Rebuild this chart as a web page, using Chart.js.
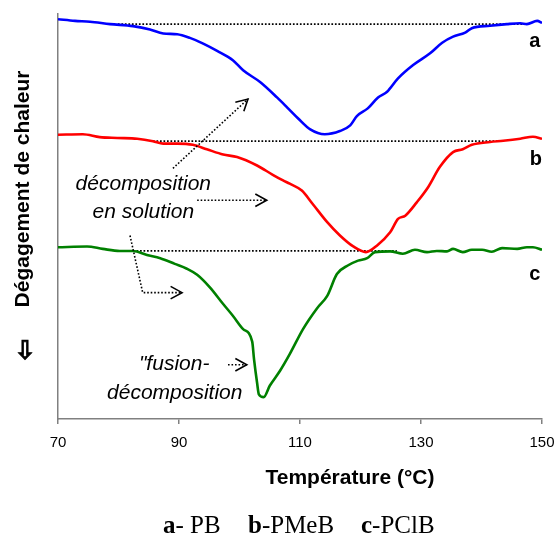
<!DOCTYPE html>
<html>
<head>
<meta charset="utf-8">
<script src="https://cdn.jsdelivr.net/npm/chart.js@4/dist/chart.umd.min.js"></script>
<style>
  html, body { margin: 0; padding: 0; background: #fff; }
  #wrap { position: relative; width: 557px; height: 538px; }
  #legend { position: absolute; top: 510px; left: 0; width: 557px; height: 30px;
            font-family: "Liberation Serif", "Times New Roman", serif; font-size: 25px;
            color: #000; white-space: pre; line-height: 30px; }
  #legend span { position: absolute; top: 0; }
</style>
</head>
<body>
<div id="wrap">
  <canvas id="c" width="557" height="538"></canvas>
  <div id="legend"><span style="left:163px"><b>a</b>- PB</span><span style="left:248px"><b>b</b>-PMeB</span><span style="left:361px"><b>c</b>-PClB</span></div>
</div>
<script>
// DSC thermograms: heat flow (arbitrary units) versus temperature (°C)
const xTicks = [70, 90, 110, 130, 150];

// a - PB
const tempA = [70, 72.8, 75.3, 78.6, 82.4, 85.2, 87.4, 89.7, 91.8, 94.0, 96.3, 98.9, 100.6, 103.4, 106.2, 107.9, 109.7, 111.7, 114.1, 116.6, 118.3, 119.4, 121.2, 122.9, 124.4, 126.2, 128.7, 131.5, 133.5, 135.3, 137.3, 138.4, 141.4, 144.2, 146.4, 147.5, 149.2, 150];
const heatA = [98.7, 98.3, 98.1, 97.5, 97.0, 96.2, 95.2, 95.0, 94.1, 92.7, 90.9, 88.6, 86.1, 83.2, 79.4, 76.9, 74.2, 71.5, 70.3, 71.1, 72.5, 74.8, 76.7, 79.4, 80.8, 84.1, 87.4, 90.3, 92.9, 94.4, 95.4, 96.5, 97.1, 97.5, 97.7, 97.5, 98.3, 97.8];

// b - PMeB
const tempB = [70, 74.1, 76.9, 79.8, 83.1, 85.7, 87.4, 89.7, 92.3, 94.6, 97.3, 99.6, 102.9, 105.5, 107.2, 108.3, 110.3, 112.1, 114.5, 116.6, 118.8, 120.9, 122.7, 124.9, 126.2, 127.4, 129.3, 131.2, 133.1, 135.3, 136.9, 138.4, 141.4, 143.6, 146.4, 148.5, 150];
const heatB = [70.2, 70.3, 69.6, 69.4, 69.2, 68.6, 68.0, 68.0, 67.7, 66.6, 65.3, 64.7, 62.6, 60.3, 58.9, 58.1, 56.4, 53.1, 48.6, 45.3, 42.6, 41.2, 42.8, 46.1, 49.4, 50.2, 53.5, 57.3, 62.2, 65.9, 66.6, 67.7, 68.4, 68.7, 69.2, 69.7, 69.2];

// c - PClB
const tempC = [70, 74.8, 77.4, 80.2, 82.4, 84.7, 86.9, 89.3, 91.3, 93.0, 95.1, 97.3, 98.9, 100.6, 102.1, 102.4, 102.9, 103.2, 104.0, 105.0, 106.7, 108.3, 110.5, 112.8, 114.5, 116.1, 117.9, 119.6, 121.1, 122.4, 124.9, 127.0, 129.0, 131.0, 132.6, 134.3, 135.3, 136.9, 138.4, 140.1, 141.7, 143.4, 145.9, 147.5, 148.5, 150];
const heatC = [42.4, 42.6, 42.0, 41.5, 41.5, 40.5, 39.7, 38.3, 37.1, 35.6, 32.5, 28.4, 25.5, 22.2, 19.1, 14.8, 9.0, 6.1, 5.4, 8.2, 11.9, 16.0, 22.2, 27.3, 30.4, 35.8, 37.9, 39.1, 39.7, 41.2, 41.4, 40.8, 41.8, 41.2, 41.5, 41.4, 42.0, 41.2, 41.8, 41.8, 41.3, 42.2, 42.0, 42.4, 42.4, 41.8];

// baselines drawn under each peak: [start T, end T], level
const baseRangeA = [79.9, 147.7]; const baseLevelA = 97.5;
const baseRangeB = [85.7, 142.6]; const baseLevelB = 68.6;
const baseRangeC = [82.4, 126.0]; const baseLevelC = 41.5;

const curveLabels = ['a', 'b', 'c'];

const toPoints = (xs, ys) => xs.map((x, i) => ({ x: x, y: ys[i] }));
const baseline = (range, level) => [{ x: range[0], y: level }, { x: range[1], y: level }];

const curveStyle = (color) => ({
  borderColor: color, borderWidth: 2.6, pointRadius: 0, fill: false,
  cubicInterpolationMode: 'monotone'
});
const dotStyle = {
  borderColor: '#000', borderWidth: 1.7, borderDash: [1.7, 1.8], pointRadius: 0, fill: false, tension: 0
};

// annotation arrows (data coordinates), each a polyline ending in an open arrowhead
const arrows = [
  [[89.0, 61.9], [101.4, 79.0]],
  [[93.0, 54.0], [104.5, 54.0]],
  [[81.9, 45.3], [84.0, 31.2], [90.5, 31.2]],
  [[98.1, 13.4], [101.2, 13.4]]
];
// annotation texts (data coordinates of the text centre)
const notes = [
  { text: 'décomposition', x: 84.1, y: 57.9 },
  { text: 'en solution', x: 84.1, y: 51.0 },
  { text: '"fusion-', x: 89.2, y: 13.6 },
  { text: 'décomposition', x: 89.3, y: 6.4 }
];
const letterPos = [[148.8, 93.1], [149.0, 64.1], [148.8, 35.6]];

const decorations = {
  id: 'decorations',
  afterDraw(chart) {
    const ctx = chart.ctx;
    const xs = chart.scales.x, ys = chart.scales.y;
    const px = (v) => xs.getPixelForValue(v);
    const py = (v) => ys.getPixelForValue(v);
    ctx.save();
    ctx.fillStyle = '#000';
    ctx.textAlign = 'center';
    ctx.textBaseline = 'middle';

    // curve letters
    ctx.font = 'bold 20px "Liberation Sans", Arial, sans-serif';
    curveLabels.forEach((t, i) => ctx.fillText(t, px(letterPos[i][0]), py(letterPos[i][1])));

    // notes
    ctx.font = 'italic 21px "Liberation Sans", Arial, sans-serif';
    notes.forEach(n => ctx.fillText(n.text, px(n.x), py(n.y)));

    // arrows
    ctx.strokeStyle = '#000';
    arrows.forEach(path => {
      const pts = path.map(p => [px(p[0]), py(p[1])]);
      ctx.lineWidth = 1.6;
      ctx.setLineDash([1.6, 1.9]);
      ctx.beginPath();
      ctx.moveTo(pts[0][0], pts[0][1]);
      for (let i = 1; i < pts.length; i++) ctx.lineTo(pts[i][0], pts[i][1]);
      ctx.stroke();
      const a = pts[pts.length - 2], b = pts[pts.length - 1];
      const ang = Math.atan2(b[1] - a[1], b[0] - a[0]);
      const len = 13, spread = 0.5;
      ctx.setLineDash([]);
      ctx.lineWidth = 1.6;
      ctx.beginPath();
      ctx.moveTo(b[0] - len * Math.cos(ang - spread), b[1] - len * Math.sin(ang - spread));
      ctx.lineTo(b[0], b[1]);
      ctx.lineTo(b[0] - len * Math.cos(ang + spread), b[1] - len * Math.sin(ang + spread));
      ctx.stroke();
    });

    // x-axis title
    ctx.font = 'bold 21px "Liberation Sans", Arial, sans-serif';
    ctx.fillText('Température (°C)', 350, 478);

    // y-axis title
    ctx.save();
    ctx.translate(23, 189);
    ctx.rotate(-Math.PI / 2);
    ctx.fillText('Dégagement de chaleur', 0, 0);
    ctx.restore();

    // endotherm direction
    ctx.font = 'bold 26px "DejaVu Sans", sans-serif';
    ctx.lineWidth = 0.7;
    ctx.strokeStyle = '#000';
    ctx.fillText('⇩', 25, 352);
    ctx.strokeText('⇩', 25, 352);
    ctx.restore();
  }
};

new Chart(document.getElementById('c'), {
  type: 'line',
  data: {
    datasets: [
      Object.assign({ label: 'a', data: toPoints(tempA, heatA) }, curveStyle('#0000FF')),
      Object.assign({ label: 'b', data: toPoints(tempB, heatB) }, curveStyle('#FF0000')),
      Object.assign({ label: 'c', data: toPoints(tempC, heatC) }, curveStyle('#008000')),
      Object.assign({ label: 'base a', data: baseline(baseRangeA, baseLevelA) }, dotStyle),
      Object.assign({ label: 'base b', data: baseline(baseRangeB, baseLevelB) }, dotStyle),
      Object.assign({ label: 'base c', data: baseline(baseRangeC, baseLevelC) }, dotStyle)
    ]
  },
  options: {
    responsive: false,
    animation: false,
    layout: { padding: { left: 58, right: 15, top: 14, bottom: 0 } },
    plugins: { legend: { display: false }, tooltip: { enabled: false } },
    scales: {
      x: {
        type: 'linear', min: 70, max: 150,
        afterBuildTicks: (s) => { s.ticks = xTicks.map(v => ({ value: v })); },
        afterFit: (s) => { s.height = 119; s.paddingLeft = 0; s.paddingRight = 0; },
        ticks: { color: '#000', padding: 10, font: { family: '"Liberation Sans", Arial, sans-serif', size: 15 } },
        grid: { display: true, drawOnChartArea: false, drawTicks: true, tickLength: 5, color: '#808080', lineWidth: 1.5 },
        border: { display: true, color: '#808080', width: 1.5 }
      },
      y: {
        type: 'linear', min: 0, max: 100,
        afterFit: (s) => { s.width = 0; s.paddingTop = 0; s.paddingBottom = 0; },
        ticks: { display: false },
        grid: { display: false, drawTicks: false },
        border: { display: true, color: '#808080', width: 1.5 }
      }
    }
  },
  plugins: [decorations]
});
</script>
</body>
</html>
